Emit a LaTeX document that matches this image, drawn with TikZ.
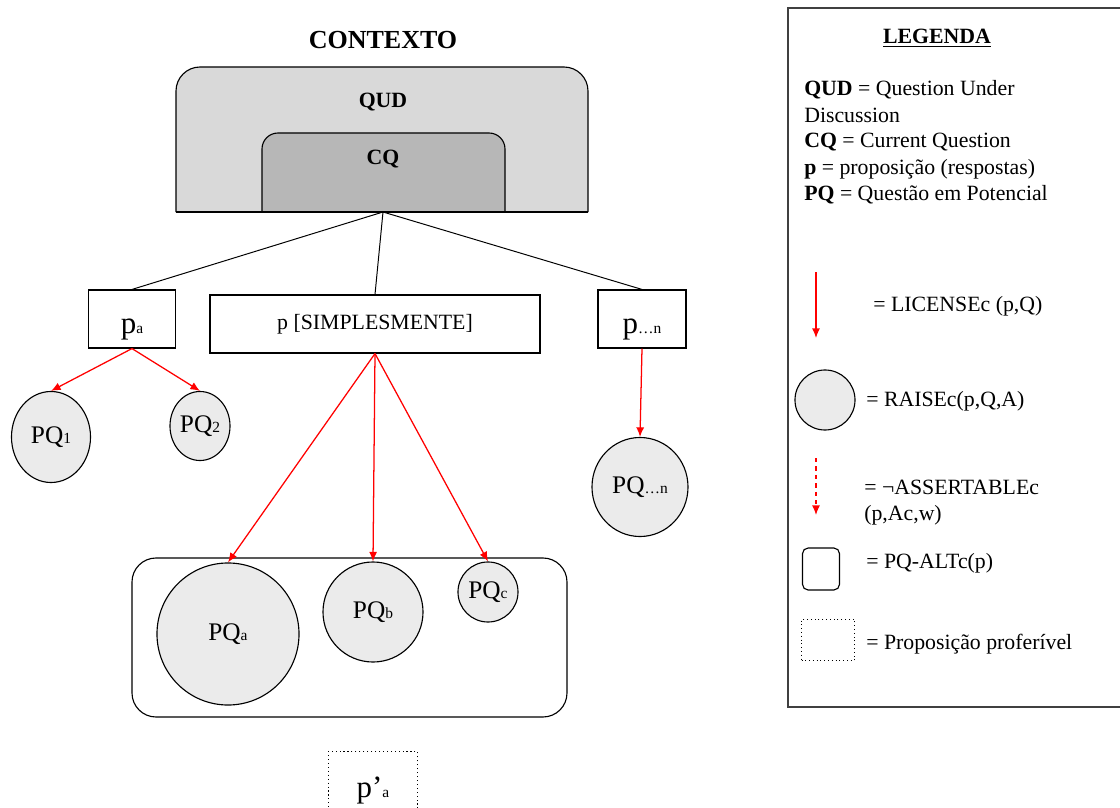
\documentclass[tikz,border=0pt]{standalone}
\usepackage{fontspec}
\setmainfont{Liberation Serif}
\usepackage{xcolor}
\usepackage{tikz}
\usetikzlibrary{shapes.geometric,arrows.meta}

\definecolor{pqgray}{HTML}{EBEBEB}
\definecolor{qudgray}{HTML}{D9D9D9}
\definecolor{cqgray}{HTML}{B7B7B7}
\newcommand{\smallidx}[1]{{\fontsize{11}{11}\selectfont #1}}

\begin{document}
\begin{tikzpicture}[x=0.025cm, y=-0.025cm,
  txt/.style={font=\fontsize{15.5}{18.5}\selectfont, inner sep=0pt},
  head/.style={font=\fontsize{15.5}{18}\selectfont\bfseries},
  pbox/.style={draw, line width=0.8pt, minimum height=1.45cm, text height=26pt, font=\fontsize{22}{24}\selectfont},
  pq/.style={draw, ellipse, line width=0.8pt, fill=pqgray, inner sep=0pt, font=\fontsize{18}{20}\selectfont},
  lic/.style={draw=red, line width=0.9pt, -{Latex[length=2.4mm,width=2mm]}}]
  \useasboundingbox (0,0) rectangle (1120,808);

  % contexto
  \node[font=\fontsize{18.5}{20}\selectfont\bfseries] (contexto) at (383,40) {CONTEXTO};
  \filldraw[fill=qudgray, line width=0.8pt, rounded corners=0.6cm] (176,212) -- (176,67) -- (588,67) -- (588,212);
  \filldraw[fill=cqgray, line width=0.8pt, rounded corners=0.4cm] (262,212) -- (262,133) -- (505,133) -- (505,212);
  \draw[line width=0.8pt] (176,212) -- (588,212);
  \node[head] (qud) at (383,102) {QUD};
  \node[head] (cq) at (383,159) {CQ};
  \coordinate (cqb) at (383,212);

  % respostas
  \node[pbox, minimum width=2.175cm] (pa) at (132,319) {p\smallidx{a}};
  \node[pbox, minimum width=8.25cm, text height=, font=\fontsize{15.5}{18.5}\selectfont] (ps) at (375,324) {p [SIMPLESMENTE]};
  \node[pbox, minimum width=2.2cm] (pn) at (642,319) {p\smallidx{…n}};
  \draw[line width=0.7pt] (cqb) -- (pa.north);
  \draw[line width=0.7pt] (cqb) -- (ps.north);
  \draw[line width=0.7pt] (cqb) -- (pn.north);

  % questoes em potencial
  \node[pq, minimum width=1.975cm, minimum height=2.275cm] (pq1) at (51,437) {PQ\smallidx{1}};
  \node[pq, minimum width=1.5cm, minimum height=1.725cm] (pq2) at (200,426) {PQ\smallidx{2}};
  \node[pq, minimum width=2.4cm, minimum height=2.475cm] (pqn) at (640,487) {PQ\smallidx{…n}};
  \draw[rounded corners=0.6cm, line width=0.8pt] (132,558) rectangle (567,717);
  \node[pq, minimum size=3.55cm] (pqa) at (228,634) {PQ\smallidx{a}};
  \node[pq, minimum size=2.5cm] (pqb) at (373,612) {PQ\smallidx{b}};
  \node[pq, minimum size=1.5cm] (pqc) at (488,592) {PQ\smallidx{c}};

  \draw[lic] (pa.south) -- (pq1.north);
  \draw[lic] (pa.south) -- (pq2.north);
  \draw[lic] (ps.south) -- (pqa.north);
  \draw[lic] (ps.south) -- (pqb.north);
  \draw[lic] (ps.south) -- (pqc.north);
  \draw[lic] (pn.south) -- (pqn.north);

  \node[pbox, dotted, line width=0.7pt, minimum width=2.2cm, minimum height=1.6cm] (pa2) at (373,783) {p’\smallidx{a}};

  % legenda
  \draw[line width=1pt, draw=black!75] (788,8) rectangle (1130,707);
  \node[head] (leg) at (937,38) {\underline{LEGENDA}};
  \node[txt, anchor=base west] (l1) at (804,96) {\textbf{QUD} = Question Under};
  \node[txt, anchor=base west] (l2) at (804,122) {Discussion};
  \node[txt, anchor=base west] (l3) at (804,148) {\textbf{CQ} = Current Question};
  \node[txt, anchor=base west] (l4) at (804,174) {\textbf{p} = proposição (respostas)};
  \node[txt, anchor=base west] (l5) at (804,200) {\textbf{PQ} = Questão em Potencial};

  \coordinate (lic1) at (816,272);
  \coordinate (lic2) at (816,338);
  \draw[lic] (lic1) -- (lic2);
  \node[txt, anchor=west] (t1) at (873,306) {= LICENSEc (p,Q)};
  \node[pq, minimum size=1.5cm] (raise) at (825,400) {};
  \node[txt, anchor=west] (t2) at (866,401) {= RAISEc(p,Q,A)};
  \coordinate (as1) at (816,458);
  \coordinate (as2) at (816,515);
  \draw[lic, dashed] (as1) -- (as2);
  \node[txt, anchor=west, align=left] (t3) at (864,503) {= ¬ASSERTABLEc\\(p,Ac,w)};
  \node[draw, rounded corners=4pt, line width=0.8pt, minimum width=0.925cm, minimum height=1.05cm] (alt) at (821,569) {};
  \node[txt, anchor=west] (t4) at (866,563) {= PQ-ALTc(p)};
  \node[draw, dotted, line width=0.7pt, minimum width=1.325cm, minimum height=1.025cm] (prop) at (828,640) {};
  \node[txt, anchor=west] (t5) at (866,644) {= Proposição proferível};
\end{tikzpicture}
\end{document}
